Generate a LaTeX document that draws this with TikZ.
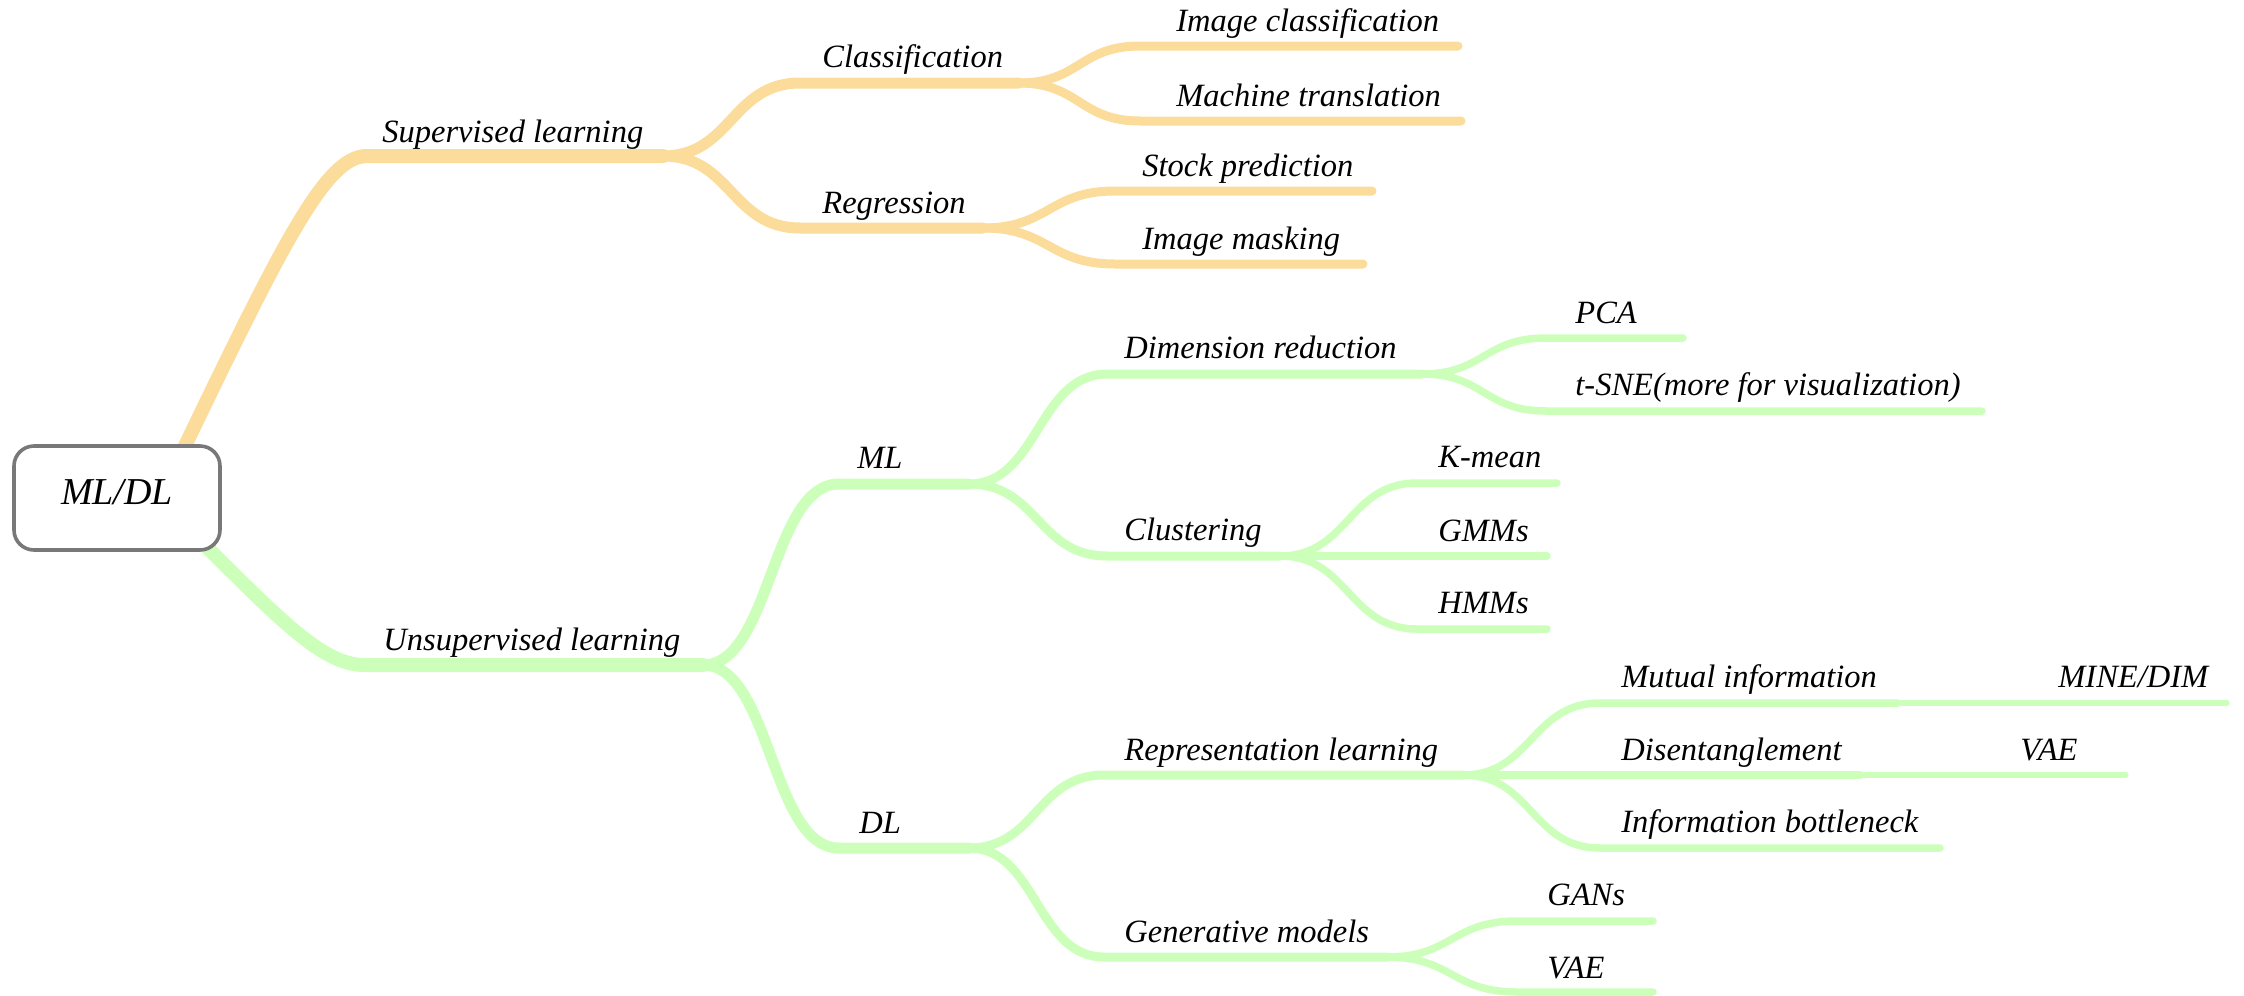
\documentclass[tikz,border=0pt]{standalone}
\usepackage{fontspec}
\setmainfont{Liberation Serif}
\usetikzlibrary{calc,backgrounds}
\definecolor{orangeC}{RGB}{252,220,155}
\definecolor{greenC}{RGB}{204,255,186}
\definecolor{boxC}{RGB}{120,120,120}
\tikzset{
  lvA/.style={line width=7pt, line cap=round},
  lvB/.style={line width=5.5pt, line cap=round},
  lvC/.style={line width=4.5pt, line cap=round},
  lvD/.style={line width=3.75pt, line cap=round},
  lvE/.style={line width=2.6pt, line cap=round},
  orangeline/.style={draw=orangeC},
  greenline/.style={draw=greenC},
  lbl/.style={anchor=base west, inner sep=0pt, font=\fontsize{16.25}{19}\selectfont\itshape},
  bcurve/.style={to path={let \p1=(\tikztostart), \p2=(\tikztotarget) in .. controls ({0.5*(\x1+\x2)},\y1) and ({0.5*(\x1+\x2)},\y2) .. (\tikztotarget) \tikztonodes}},
  rootbox/.style={draw=boxC, line width=1.8pt, fill=white, rounded corners=10pt, minimum width=103pt, minimum height=52pt, inner sep=0pt, text height=1.5ex, text depth=0pt, font=\fontsize{19}{23}\selectfont\itshape}
}
\begin{document}
\begin{tikzpicture}[x=0.5pt,y=-0.5pt]
\useasboundingbox (0,0) rectangle (2244,996);
% root
\node[rootbox] (root) at (117,498) {ML/DL};
\coordinate (sup-o) at ($(root.center)+(43,0)$);
\coordinate (uns-o) at ($(root.center)+(41,0)$);
% line start/end coordinates
\coordinate (sup-s) at (367,156);  \coordinate (sup-e) at (663,156);
\coordinate (cls-s) at (800,83);   \coordinate (cls-e) at (1019,83);
\coordinate (reg-s) at (800,228);  \coordinate (reg-e) at (983,228);
\coordinate (ic-s) at (1140,46);   \coordinate (ic-e) at (1458,46);
\coordinate (mt-s) at (1140,121);  \coordinate (mt-e) at (1461,121);
\coordinate (sp-s) at (1115,191);  \coordinate (sp-e) at (1372,191);
\coordinate (im-s) at (1115,264);  \coordinate (im-e) at (1363,264);
\coordinate (uns-s) at (365,665);  \coordinate (uns-e) at (703,665);
\coordinate (ml-s) at (839,484);   \coordinate (ml-e) at (969,484);
\coordinate (dl-s) at (839,848);   \coordinate (dl-e) at (969,848);
\coordinate (dim-s) at (1107,374); \coordinate (dim-e) at (1422,374);
\coordinate (clu-s) at (1107,556); \coordinate (clu-e) at (1280,556);
\coordinate (pca-s) at (1546,338); \coordinate (pca-e) at (1683,338);
\coordinate (tsne-s) at (1546,411); \coordinate (tsne-e) at (1982,411);
\coordinate (km-s) at (1417,483);  \coordinate (km-e) at (1557,483);
\coordinate (gmm-e) at (1547,556);
\coordinate (hmm-s) at (1417,629); \coordinate (hmm-e) at (1547,629);
\coordinate (rep-s) at (1104,775); \coordinate (rep-e) at (1463,775);
\coordinate (gen-s) at (1104,957); \coordinate (gen-e) at (1387,957);
\coordinate (mi-s) at (1600,703);  \coordinate (mi-e) at (1898,703);
\coordinate (dis-e) at (1860,775);
\coordinate (ib-s) at (1600,848);  \coordinate (ib-e) at (1940,848);
\coordinate (mine-e) at (2227,703);
\coordinate (vaea-e) at (2126,775);
\coordinate (gan-s) at (1517,921); \coordinate (gan-e) at (1653,921);
\coordinate (vaeb-s) at (1517,992); \coordinate (vaeb-e) at (1653,992);
% labels
\node[lbl] (sup) at (382,142) {Supervised learning};
\node[lbl] (cls) at (822,67) {Classification};
\node[lbl] (reg) at (822,213) {Regression};
\node[lbl] (ic) at (1176,31) {Image classification};
\node[lbl] (mt) at (1176,106) {Machine translation};
\node[lbl] (sp) at (1142,176) {Stock prediction};
\node[lbl] (im) at (1142,249) {Image masking};
\node[lbl] (uns) at (383,650) {Unsupervised learning};
\node[lbl] (ml) at (857,468) {ML};
\node[lbl] (dl) at (859,833) {DL};
\node[lbl] (dim) at (1124,358) {Dimension reduction};
\node[lbl] (clu) at (1124,540) {Clustering};
\node[lbl] (pca) at (1575,323) {PCA};
\node[lbl] (tsne) at (1575,395) {t-SNE(more for visualization)};
\node[lbl] (km) at (1438,467) {K-mean};
\node[lbl] (gmm) at (1438,541) {GMMs};
\node[lbl] (hmm) at (1438,613) {HMMs};
\node[lbl] (rep) at (1124,760) {Representation learning};
\node[lbl] (gen) at (1124,942) {Generative models};
\node[lbl] (mi) at (1621,687) {Mutual information};
\node[lbl] (dis) at (1621,760) {Disentanglement};
\node[lbl] (ib) at (1621,832) {Information bottleneck};
\node[lbl] (mine) at (2058,687) {MINE/DIM};
\node[lbl] (vaea) at (2020,760) {VAE};
\node[lbl] (gan) at (1547,905) {GANs};
\node[lbl] (vaeb) at (1547,978) {VAE};
\begin{pgfonlayer}{background}
% supervised branch
\draw[orangeline,lvA] (sup-o) .. controls +(120,-250) and +(-43,0) .. (sup-s) -- (sup-e);
\draw[orangeline,lvB] (sup-e) to[bcurve] (cls-s) -- (cls-e);
\draw[orangeline,lvB] (sup-e) to[bcurve] (reg-s) -- (reg-e);
\draw[orangeline,lvC] (cls-e) to[bcurve] (ic-s) -- (ic-e);
\draw[orangeline,lvC] (cls-e) to[bcurve] (mt-s) -- (mt-e);
\draw[orangeline,lvC] (reg-e) to[bcurve] (sp-s) -- (sp-e);
\draw[orangeline,lvC] (reg-e) to[bcurve] (im-s) -- (im-e);
% unsupervised branch
\draw[greenline,lvA] (uns-o) .. controls +(120,120) and +(-45,0) .. (uns-s) -- (uns-e);
\draw[greenline,lvB] (uns-e) to[bcurve] (ml-s) -- (ml-e);
\draw[greenline,lvB] (uns-e) to[bcurve] (dl-s) -- (dl-e);
\draw[greenline,lvC] (ml-e) to[bcurve] (dim-s) -- (dim-e);
\draw[greenline,lvC] (ml-e) to[bcurve] (clu-s) -- (clu-e);
\draw[greenline,lvD] (dim-e) to[bcurve] (pca-s) -- (pca-e);
\draw[greenline,lvD] (dim-e) to[bcurve] (tsne-s) -- (tsne-e);
\draw[greenline,lvD] (clu-e) to[bcurve] (km-s) -- (km-e);
\draw[greenline,lvD] (clu-e) -- (gmm-e);
\draw[greenline,lvD] (clu-e) to[bcurve] (hmm-s) -- (hmm-e);
\draw[greenline,lvC] (dl-e) to[bcurve] (rep-s) -- (rep-e);
\draw[greenline,lvC] (dl-e) to[bcurve] (gen-s) -- (gen-e);
\draw[greenline,lvD] (rep-e) to[bcurve] (mi-s) -- (mi-e);
\draw[greenline,lvD] (rep-e) -- (dis-e);
\draw[greenline,lvD] (rep-e) to[bcurve] (ib-s) -- (ib-e);
\draw[greenline,lvE] (mi-e) -- (mine-e);
\draw[greenline,lvE] (dis-e) -- (vaea-e);
\draw[greenline,lvD] (gen-e) to[bcurve] (gan-s) -- (gan-e);
\draw[greenline,lvD] (gen-e) to[bcurve] (vaeb-s) -- (vaeb-e);
\end{pgfonlayer}
\end{tikzpicture}
\end{document}
